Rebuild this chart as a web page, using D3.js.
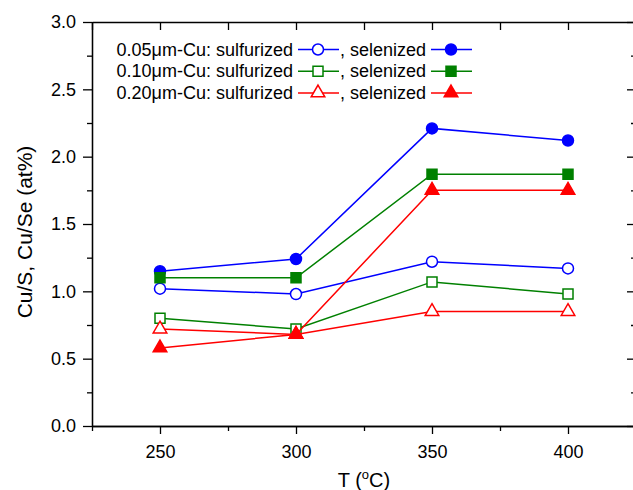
<!DOCTYPE html>
<html>
<head>
<meta charset="utf-8">
<script src="https://cdn.jsdelivr.net/npm/d3@7"></script>
<style>
  body { margin: 0; background: #fff; }
  svg text { font-family: "Liberation Sans", Arial, sans-serif; fill: #000; }
</style>
</head>
<body>
<svg id="chart" width="633" height="490"></svg>
<script>
// 数据
const temps = [250, 300, 350, 400];
const sulf005 = [1.02, 0.98, 1.22, 1.17];
const sel005 = [1.15, 1.24, 2.21, 2.12];
const sulf010 = [0.80, 0.72, 1.07, 0.98];
const sel010 = [1.10, 1.10, 1.87, 1.87];
const sulf020 = [0.72, 0.68, 0.85, 0.85];
const sel020 = [0.58, 0.68, 1.75, 1.75];

const xTicks = [250, 300, 350, 400];
const xMinor = [225, 275, 325, 375, 425];
const yTicks = [0, 0.5, 1.0, 1.5, 2.0, 2.5, 3.0];
const yMinor = [0.25, 0.75, 1.25, 1.75, 2.25, 2.75];

const seriesList = [
    { label: "0.05\u03bcm-Cu", color: "#0000ff", shape: d3.symbolCircle, size: 95, sulf: sulf005, sel: sel005 },
    { label: "0.10\u03bcm-Cu", color: "#008000", shape: d3.symbolSquare, size: 100, sulf: sulf010, sel: sel010 },
    { label: "0.20\u03bcm-Cu", color: "#ff0000", shape: d3.symbolTriangle, size: 80, sulf: sulf020, sel: sel020 }
];

const svg = d3.select("#chart");
const plotL = 92, plotR = 636, plotT = 22, plotB = 426;

const x = d3.scaleLinear().domain([225, 425]).range([plotL, plotR]);
const y = d3.scaleLinear().domain([0, 3]).range([plotB, plotT]);

// 坐标轴
function styleAxis(g) {
    g.selectAll("path.domain").attr("stroke", "#000").attr("stroke-width", 1.3);
    g.selectAll(".tick line").attr("stroke", "#000").attr("stroke-width", 1.3);
    g.selectAll(".tick text").style("font-size", "18px");
}

svg.append("g").attr("transform", `translate(0,${plotB})`)
    .call(d3.axisBottom(x).tickValues(xTicks).tickSize(8).tickPadding(11).tickSizeOuter(0).tickFormat(d3.format("d")))
    .call(styleAxis);
svg.append("g").attr("transform", `translate(0,${plotB})`)
    .call(d3.axisBottom(x).tickValues(xMinor).tickSize(5).tickSizeOuter(0).tickFormat(""))
    .call(styleAxis);

svg.append("g").attr("transform", `translate(0,${plotT})`)
    .call(d3.axisBottom(x).tickValues(xTicks.concat(xMinor)).tickSize(8).tickSizeOuter(0).tickFormat(""))
    .call(styleAxis);

svg.append("g").attr("transform", `translate(${plotL},0)`)
    .call(d3.axisLeft(y).tickValues(yTicks).tickSize(9).tickPadding(7).tickSizeOuter(0).tickFormat(d3.format(".1f")))
    .call(styleAxis);
svg.append("g").attr("transform", `translate(${plotL},0)`)
    .call(d3.axisLeft(y).tickValues(yMinor).tickSize(5).tickSizeOuter(0).tickFormat(""))
    .call(styleAxis);

svg.append("g").attr("transform", `translate(${plotR},0)`)
    .call(d3.axisLeft(y).tickValues(yTicks).tickSize(9).tickSizeOuter(0).tickFormat(""))
    .call(styleAxis);
svg.append("g").attr("transform", `translate(${plotR},0)`)
    .call(d3.axisLeft(y).tickValues(yMinor).tickSize(5).tickSizeOuter(0).tickFormat(""))
    .call(styleAxis);

// 轴标题
const xTitle = svg.append("text")
    .attr("x", (plotL + plotR) / 2).attr("y", 487)
    .attr("text-anchor", "middle").style("font-size", "20px");
xTitle.append("tspan").text("T (");
xTitle.append("tspan").attr("dy", -8).style("font-size", "13px").text("o");
xTitle.append("tspan").attr("dy", 8).text("C)");

svg.append("text")
    .attr("transform", "translate(32,232) rotate(-90)")
    .attr("text-anchor", "middle").style("font-size", "21px")
    .text("Cu/S, Cu/Se (at%)");

// 折线和标记
const line = d3.line().x((d, i) => x(temps[i])).y(d => y(d));

function drawSeries(values, s, filled) {
    svg.append("path").datum(values)
        .attr("d", line)
        .attr("fill", "none")
        .attr("stroke", s.color)
        .attr("stroke-width", 1.5);
    svg.selectAll(null).data(values).enter()
        .append("path")
        .attr("d", d3.symbol().type(s.shape).size(s.size))
        .attr("transform", (d, i) => `translate(${x(temps[i])},${y(d)})`)
        .attr("fill", filled ? s.color : "#fff")
        .attr("stroke", s.color)
        .attr("stroke-width", 1.5);
}

seriesList.forEach(s => drawSeries(s.sulf, s, false));
seriesList.forEach(s => drawSeries(s.sel, s, true));

// 图例
function legendSample(cx, cy, s, filled) {
    svg.append("line")
        .attr("x1", cx - 20).attr("x2", cx + 21)
        .attr("y1", cy).attr("y2", cy)
        .attr("stroke", s.color).attr("stroke-width", 1.5);
    svg.append("path")
        .attr("d", d3.symbol().type(s.shape).size(s.size))
        .attr("transform", `translate(${cx},${cy})`)
        .attr("fill", filled ? s.color : "#fff")
        .attr("stroke", s.color).attr("stroke-width", 1.5);
}

seriesList.forEach((s, i) => {
    const cy = 49.5 + i * 21.7;
    svg.append("text")
        .attr("x", 293).attr("y", cy + 6)
        .attr("text-anchor", "end").style("font-size", "18px")
        .text(`${s.label}: sulfurized`);
    legendSample(318, cy, s, false);
    svg.append("text")
        .attr("x", 340).attr("y", cy + 6)
        .style("font-size", "18px")
        .text(", selenized");
    legendSample(451, cy, s, true);
});
</script>
</body>
</html>
